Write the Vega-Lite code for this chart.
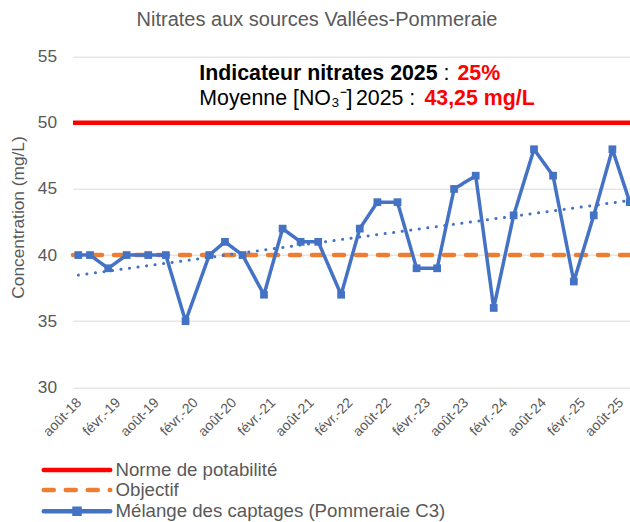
{
  "$schema": "https://vega.github.io/schema/vega-lite/v6.json",
  "width": 557,
  "height": 330.6,
  "autosize": "none",
  "padding": {"left": 73, "top": 56.7, "right": 0, "bottom": 134.7},
  "background": "white",
  "config": {
    "font": "Liberation Sans",
    "view": {"stroke": null},
    "axisX": {"labelOverlap": false, "labelSeparation": -300}
  },
  "title": {
    "text": "Nitrates aux sources Vallées-Pommeraie",
    "fontSize": 20,
    "fontWeight": "normal",
    "color": "#595959",
    "anchor": "middle",
    "frame": "group",
    "dx": -34.5,
    "offset": 2,
    "baseline": "alphabetic"
  },
  "data": {
    "values": [
      {"date": "2018-08-21", "value": 40},
      {"date": "2018-10-15", "value": 40},
      {"date": "2019-01-09", "value": 39},
      {"date": "2019-04-06", "value": 40},
      {"date": "2019-07-17", "value": 40},
      {"date": "2019-10-08", "value": 40},
      {"date": "2020-01-09", "value": 35},
      {"date": "2020-04-30", "value": 40},
      {"date": "2020-07-13", "value": 41},
      {"date": "2020-10-04", "value": 40},
      {"date": "2021-01-13", "value": 37},
      {"date": "2021-04-11", "value": 42},
      {"date": "2021-07-05", "value": 41},
      {"date": "2021-09-26", "value": 41},
      {"date": "2022-01-12", "value": 37},
      {"date": "2022-04-10", "value": 42},
      {"date": "2022-07-02", "value": 44},
      {"date": "2022-10-05", "value": 44},
      {"date": "2023-01-03", "value": 39},
      {"date": "2023-04-10", "value": 39},
      {"date": "2023-06-29", "value": 45},
      {"date": "2023-10-09", "value": 46},
      {"date": "2024-01-02", "value": 36},
      {"date": "2024-04-05", "value": 43},
      {"date": "2024-07-10", "value": 48},
      {"date": "2024-10-08", "value": 46},
      {"date": "2025-01-14", "value": 38},
      {"date": "2025-04-18", "value": 43},
      {"date": "2025-07-15", "value": 48},
      {"date": "2025-10-05", "value": 44}
    ],
    "format": {"parse": {"date": "date"}}
  },
  "layer": [
    {
      "data": {"values": [{}]},
      "mark": {"type": "rule", "strokeWidth": 4.5, "strokeCap": "butt"},
      "encoding": {
        "y": {"datum": 50, "type": "quantitative", "title": "Concentration (mg/L)", "scale": {"domain": [30, 55], "nice": false, "zero": false}},
        "color": {
          "datum": "Norme de potabilité",
          "title": null,
          "scale": {"domain": ["Norme de potabilité", "Objectif", "Mélange des captages (Pommeraie C3)"], "range": ["#FF0000", "#ED7D31", "#4472C4"]},
          "legend": {
            "title": null,
            "orient": "none",
            "legendX": -5.5,
            "legendY": 403.8,
            "direction": "vertical",
            "padding": 0,
            "labelFontSize": 18.67,
            "labelColor": "#595959",
            "labelLimit": 500,
            "labelOffset": 29,
            "rowPadding": -0.7,
            "symbolSize": 196,
            "symbolStrokeWidth": 4.5,
            "symbolFillColor": "#4472C4",
            "encode": {
              "symbols": {
                "update": {
                  "shape": {"signal": "datum.label === 'Mélange des captages (Pommeraie C3)' ? 'M-4.75,0H4.75M-0.357,-0.357H0.357V0.357H-0.357Z' : 'M-4.75,0H4.75'"},
                  "fill": {"signal": "datum.label === 'Mélange des captages (Pommeraie C3)' ? '#4472C4' : 'transparent'"},
                  "strokeCap": {"value": "round"}
                }
              }
            }
          }
        },
        "strokeDash": {
          "datum": "Norme de potabilité",
          "title": null,
          "scale": {"domain": ["Norme de potabilité", "Objectif", "Mélange des captages (Pommeraie C3)"], "range": [[1, 0], [10, 12], [1, 0]]}
        }
      }
    },
    {
      "data": {"values": [{}]},
      "mark": {"type": "rule", "strokeWidth": 4.5, "strokeCap": "round"},
      "encoding": {
        "y": {"datum": 40, "type": "quantitative", "title": "Concentration (mg/L)", "scale": {"domain": [30, 55], "nice": false, "zero": false}},
        "color": {"datum": "Objectif", "title": null, "scale": {"domain": ["Norme de potabilité", "Objectif", "Mélange des captages (Pommeraie C3)"], "range": ["#FF0000", "#ED7D31", "#4472C4"]}},
        "strokeDash": {"datum": "Objectif", "title": null, "scale": {"domain": ["Norme de potabilité", "Objectif", "Mélange des captages (Pommeraie C3)"], "range": [[1, 0], [10, 12], [1, 0]]}}
      }
    },
    {
      "mark": {"type": "line", "strokeWidth": 3.5, "strokeJoin": "round", "strokeCap": "round"},
      "encoding": {
        "x": {
          "field": "date",
          "type": "temporal",
          "title": null,
          "scale": {"domain": [{"year": 2018, "month": 7, "date": 27}, {"year": 2025, "month": 10, "date": 6}], "nice": false},
          "axis": {
            "values": [
              {"year": 2018, "month": 8, "date": 1},
              {"year": 2019, "month": 2, "date": 1},
              {"year": 2019, "month": 8, "date": 1},
              {"year": 2020, "month": 2, "date": 1},
              {"year": 2020, "month": 8, "date": 1},
              {"year": 2021, "month": 2, "date": 1},
              {"year": 2021, "month": 8, "date": 1},
              {"year": 2022, "month": 2, "date": 1},
              {"year": 2022, "month": 8, "date": 1},
              {"year": 2023, "month": 2, "date": 1},
              {"year": 2023, "month": 8, "date": 1},
              {"year": 2024, "month": 2, "date": 1},
              {"year": 2024, "month": 8, "date": 1},
              {"year": 2025, "month": 2, "date": 1},
              {"year": 2025, "month": 8, "date": 1}
            ],
            "tickCount": 40,
            "labelExpr": "(month(datum.value) == 7 ? 'août-' : 'févr.-') + timeFormat(datum.value, '%y')",
            "labelAngle": -45,
            "labelAlign": "right",
            "labelBaseline": "top",
            "labelPadding": 8,
            "labelFontSize": 14,
            "labelColor": "#595959",
            "labelOverlap": false,
            "labelSeparation": -300,
            "labelFlush": false,
            "labelBound": false,
            "domain": false,
            "ticks": false,
            "grid": false
          }
        },
        "y": {
          "field": "value",
          "type": "quantitative",
          "title": "Concentration (mg/L)",
          "scale": {"domain": [30, 55], "nice": false, "zero": false},
          "axis": {
            "values": [30, 35, 40, 45, 50, 55],
            "grid": true,
            "gridColor": "#D9D9D9",
            "gridWidth": 1,
            "domain": false,
            "ticks": false,
            "labelFontSize": 17.3,
            "labelColor": "#595959",
            "labelPadding": 16.5,
            "titleFontSize": 17.3,
            "titleColor": "#595959",
            "titleFontWeight": "normal",
            "titleX": -54.7,
            "titleY": 160.3,
            "titleAngle": -90,
            "titleAlign": "center",
            "titleBaseline": "middle"
          }
        },
        "color": {"datum": "Mélange des captages (Pommeraie C3)", "title": null, "scale": {"domain": ["Norme de potabilité", "Objectif", "Mélange des captages (Pommeraie C3)"], "range": ["#FF0000", "#ED7D31", "#4472C4"]}},
        "strokeDash": {"datum": "Mélange des captages (Pommeraie C3)", "title": null, "scale": {"domain": ["Norme de potabilité", "Objectif", "Mélange des captages (Pommeraie C3)"], "range": [[1, 0], [10, 12], [1, 0]]}}
      }
    },
    {
      "mark": {"type": "point", "shape": "square", "filled": true, "size": 60, "color": "#4472C4", "opacity": 1},
      "encoding": {
        "x": {"field": "date", "type": "temporal", "title": null, "scale": {"domain": [{"year": 2018, "month": 7, "date": 27}, {"year": 2025, "month": 10, "date": 6}], "nice": false}},
        "y": {"field": "value", "type": "quantitative", "title": "Concentration (mg/L)", "scale": {"domain": [30, 55], "nice": false, "zero": false}}
      }
    },
    {
      "transform": [{"regression": "value", "on": "date"}],
      "mark": {"type": "line", "color": "#4472C4", "strokeWidth": 3, "strokeDash": [0.1, 8.5], "strokeCap": "round"},
      "encoding": {
        "x": {"field": "date", "type": "temporal", "title": null, "scale": {"domain": [{"year": 2018, "month": 7, "date": 27}, {"year": 2025, "month": 10, "date": 6}], "nice": false}},
        "y": {"field": "value", "type": "quantitative", "title": "Concentration (mg/L)", "scale": {"domain": [30, 55], "nice": false, "zero": false}}
      }
    },
    {
      "data": {"values": [{}]},
      "mark": {"type": "text", "text": "Indicateur nitrates 2025", "fontWeight": "bold", "fontSize": 21.33, "color": "#000000", "align": "left", "baseline": "alphabetic"},
      "encoding": {
        "x": {"datum": {"year": 2020, "month": 3, "date": 14}, "type": "temporal", "title": null},
        "y": {"datum": 53.24, "type": "quantitative", "title": "Concentration (mg/L)"}
      }
    },
    {
      "data": {"values": [{}]},
      "mark": {"type": "text", "text": ":", "fontSize": 21.33, "color": "#000000", "align": "left", "baseline": "alphabetic"},
      "encoding": {
        "x": {"datum": {"year": 2023, "month": 5, "date": 10}, "type": "temporal", "title": null},
        "y": {"datum": 53.24, "type": "quantitative", "title": "Concentration (mg/L)"}
      }
    },
    {
      "data": {"values": [{}]},
      "mark": {"type": "text", "text": "25%", "fontWeight": "bold", "fontSize": 21.33, "color": "#FF0000", "align": "left", "baseline": "alphabetic"},
      "encoding": {
        "x": {"datum": {"year": 2023, "month": 7, "date": 15}, "type": "temporal", "title": null},
        "y": {"datum": 53.24, "type": "quantitative", "title": "Concentration (mg/L)"}
      }
    },
    {
      "data": {"values": [{}]},
      "mark": {"type": "text", "text": "Moyenne [NO₃⁻]", "fontSize": 21.33, "color": "#000000", "align": "left", "baseline": "alphabetic"},
      "encoding": {
        "x": {"datum": {"year": 2020, "month": 3, "date": 14}, "type": "temporal", "title": null},
        "y": {"datum": 51.35, "type": "quantitative", "title": "Concentration (mg/L)"}
      }
    },
    {
      "data": {"values": [{}]},
      "mark": {"type": "text", "text": "2025 :", "fontSize": 21.33, "color": "#000000", "align": "left", "baseline": "alphabetic"},
      "encoding": {
        "x": {"datum": {"year": 2022, "month": 3, "date": 23}, "type": "temporal", "title": null},
        "y": {"datum": 51.35, "type": "quantitative", "title": "Concentration (mg/L)"}
      }
    },
    {
      "data": {"values": [{}]},
      "mark": {"type": "text", "text": "43,25 mg/L", "fontWeight": "bold", "fontSize": 21.33, "color": "#FF0000", "align": "left", "baseline": "alphabetic"},
      "encoding": {
        "x": {"datum": {"year": 2023, "month": 2, "date": 9}, "type": "temporal", "title": null},
        "y": {"datum": 51.35, "type": "quantitative", "title": "Concentration (mg/L)"}
      }
    }
  ]
}
